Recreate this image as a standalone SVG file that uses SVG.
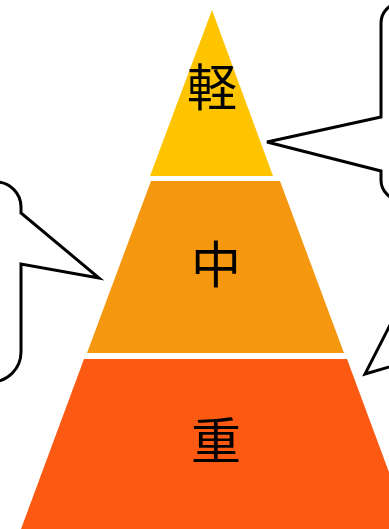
<svg xmlns="http://www.w3.org/2000/svg" width="389" height="529" viewBox="0 0 389 529">
<style>
.lbl{font-family:"Noto Sans CJK JP","Noto Sans CJK SC",sans-serif;font-size:50px;fill:#000;text-anchor:middle}
.call{fill:#fff;stroke:#000;stroke-width:3;stroke-linejoin:miter}
</style>
<rect width="389" height="529" fill="#fff"/>
<g id="tier-top">
<polygon points="212,10 273,176 150,176" fill="#FFC400"/>
<text class="lbl" x="212" y="106">軽</text>
</g>
<g id="tier-middle">
<polygon points="151,181 280,181 344,353 87,353" fill="#F5980F"/>
<text class="lbl" x="216" y="283">中</text>
</g>
<g id="tier-bottom">
<polygon points="84,359 347,359 410,529 21,529" fill="#FC5A12"/>
<text class="lbl" x="216" y="459">重</text>
</g>
<g id="callout-top-right">
<path class="call" d="M 450 3 L 401 3 A 20 20 0 0 0 381 23 L 381 117 L 267 142 L 381 171 L 381 180 A 20 20 0 0 0 401 200 L 450 200 Z"/>
</g>
<g id="callout-left">
<path class="call" d="M -60 182 L -4 182 A 25 25 0 0 1 21 207 L 21 213 L 99 278 L 21 264 L 21 352 A 30 30 0 0 1 -9 382 L -60 382 Z"/>
</g>
<g id="callout-bottom-right">
<path class="call" d="M 400 305.5 L 365 374 L 400 363.8 L 450 363.8 L 450 305.5 Z"/>
</g>
<g id="connectors"></g>
</svg>
